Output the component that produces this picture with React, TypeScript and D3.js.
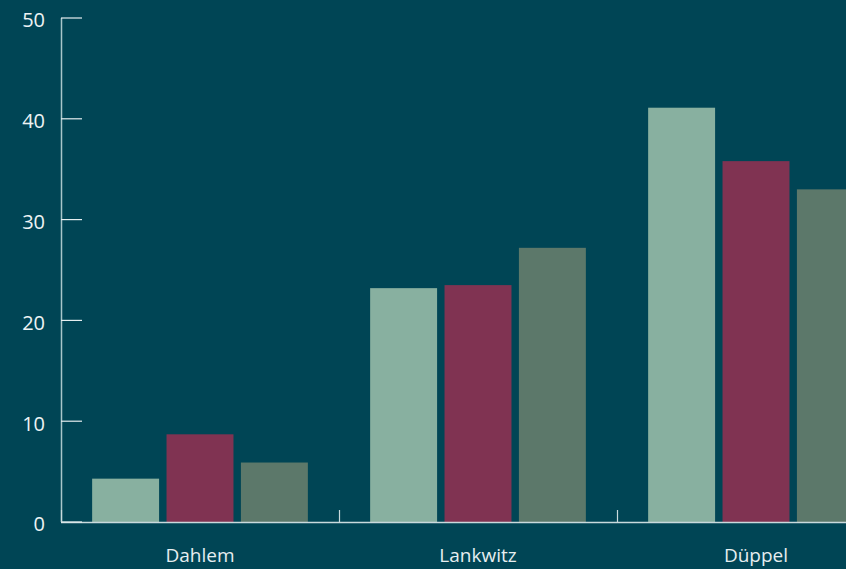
import React, { useEffect, useRef } from "react";
import * as d3 from "d3";

const categories = ["Dahlem", "Lankwitz", "Düppel"];
const seriesNames = ["A", "B", "C"];
const seriesA = [4.3, 23.2, 41.1];
const seriesB = [8.7, 23.5, 35.8];
const seriesC = [5.9, 27.2, 33.0];
const yTicks = [0, 10, 20, 30, 40, 50];
const colors = ["#88b0a0", "#803352", "#5c786a"];

const W = 846;
const H = 569;

export default function App() {
  const ref = useRef<SVGSVGElement>(null);
  useEffect(() => {
    document.body.style.margin = "0";
    const svg = d3.select(ref.current);
    svg.selectAll("*").remove();
    const font = "'Open Sans', 'Noto Sans', sans-serif";
    svg.append("rect").attr("width", W).attr("height", H).attr("fill", "#004555");

    const x0 = d3.scaleBand<string>().domain(categories).range([61, 61 + 278 * 3]).padding(0);
    const bw = x0.bandwidth();
    const x1 = d3.scaleBand<string>().domain(seriesNames).range([bw * 0.112, bw * 0.888]).paddingInner(0.1);
    const y = d3.scaleLinear().domain([0, 50]).range([522, 18]);

    const series = [seriesA, seriesB, seriesC];
    const g = svg.append("g");
    categories.forEach((c, ci) => {
      series.forEach((s, si) => {
        const v = s[ci];
        g.append("rect")
          .attr("x", x0(c)! + x1(seriesNames[si])!)
          .attr("y", y(v))
          .attr("width", x1.bandwidth())
          .attr("height", y(0) - y(v))
          .attr("fill", colors[si]);
      });
    });

    // y axis line
    svg.append("line").attr("x1", 61.5).attr("x2", 61.5).attr("y1", y(50)).attr("y2", y(0))
      .attr("stroke", "#a9c6ca").attr("stroke-width", 1.5);
    // x axis line
    svg.append("line").attr("x1", 61).attr("x2", W).attr("y1", 522.5).attr("y2", 522.5)
      .attr("stroke", "#c9dadd").attr("stroke-width", 1.5);

    yTicks.forEach((t) => {
      svg.append("line").attr("x1", 61).attr("x2", 82).attr("y1", y(t)).attr("y2", y(t))
        .attr("stroke", "#e6eef0").attr("stroke-width", 1.2);
      svg.append("text").attr("x", 45).attr("y", y(t) + 4).attr("text-anchor", "end")
        .attr("dominant-baseline", "middle")
        .attr("fill", "#eef3f4").attr("font-family", font).attr("font-size", 20)
        .text(t);
    });

    // x band boundary ticks
    categories.forEach((c) => {
      const xb = x0(c)!;
      svg.append("line").attr("x1", xb + 0.5).attr("x2", xb + 0.5).attr("y1", 510).attr("y2", 522)
        .attr("stroke", "#c9dadd").attr("stroke-width", 1.2);
      svg.append("text").attr("x", xb + bw / 2).attr("y", 562).attr("text-anchor", "middle")
        .attr("fill", "#e6eef0").attr("font-family", font).attr("font-size", 19)
        .text(c);
    });
  }, []);
  return <svg ref={ref} width={W} height={H} style={{ display: "block" }} />;
}
